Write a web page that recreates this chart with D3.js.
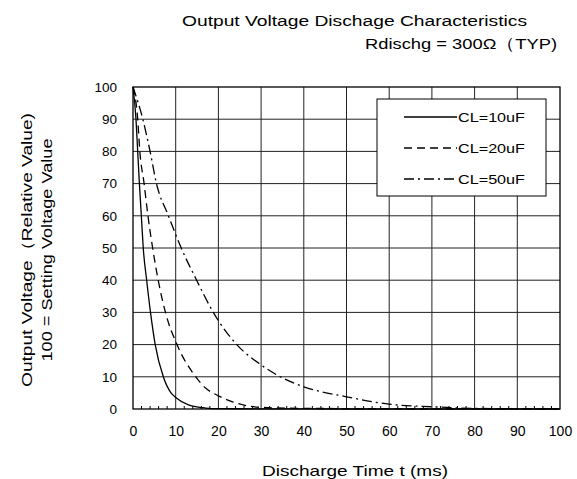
<!DOCTYPE html>
<html>
<head>
<meta charset="utf-8">
<script src="https://cdn.jsdelivr.net/npm/d3@7"></script>
<style>
  body { margin: 0; background: #fff; }
  svg text { font-family: "Liberation Sans", Arial, sans-serif; fill: #000; }
</style>
</head>
<body>
<svg id="chart" width="577" height="479"></svg>
<script>
// series: time (ms) -> relative output voltage
const seriesNames = ["CL=10uF", "CL=20uF", "CL=50uF"];

const t10 = [0, 0.7, 1.1, 1.5, 1.95, 2.4, 3.2, 4.1, 5.2, 7.1, 8.9, 10, 13, 17, 20, 30, 50, 100];
const v10 = [100, 90, 80, 70, 60, 50, 40, 30, 20, 10, 5, 3.6, 1.3, 0.3, 0.1, 0.05, 0, 0];

const t20 = [0, 1.1, 1.6, 2.6, 3.5, 4.6, 5.9, 7.6, 10.3, 14.7, 17, 20, 23, 26, 30, 40, 60, 100];
const v20 = [100, 90, 80, 70, 60, 50, 40, 30, 20, 10, 6.5, 4.1, 2.4, 1.2, 0.5, 0.2, 0.1, 0];

const t50 = [0, 2.3, 4.0, 5.5, 8.3, 11.3, 14.9, 18.8, 24.3, 30, 34.5, 40, 50, 60, 70, 80, 90, 100];
const v50 = [100, 90, 80, 70, 60, 50, 40, 30, 20, 13.7, 10, 6.9, 3.8, 1.5, 0.7, 0.2, 0.1, 0];

const xTicks = [0, 10, 20, 30, 40, 50, 60, 70, 80, 90, 100];
const yTicks = [0, 10, 20, 30, 40, 50, 60, 70, 80, 90, 100];

const titleLines = ["Output Voltage Dischage Characteristics", "Rdischg = 300\u03A9\uFF08TYP)"];
const yLabelLines = ["Output Voltage\uFF08Relative Value)", "100 = Setting Voltage Value"];
const xLabel = "Discharge Time t (ms)";

const dashes = [null, "8,5", "10,4,2,4"];

const margin = {top: 87, right: 17, bottom: 70, left: 133};
const width = 577 - margin.left - margin.right;
const height = 479 - margin.top - margin.bottom;

const svg = d3.select("#chart");
const g = svg.append("g").attr("transform", `translate(${margin.left},${margin.top})`);

const x = d3.scaleLinear().domain([0, 100]).range([0, width]);
const y = d3.scaleLinear().domain([0, 100]).range([height, 0]);

// wide gothic look: stretch the glyphs to the widths seen in the picture
function stretched(sel, len) {
  return sel.attr("textLength", len).attr("lengthAdjust", "spacingAndGlyphs");
}

// grid
g.append("g").selectAll("line").data(xTicks.slice(1, -1)).join("line")
  .attr("x1", d => x(d)).attr("x2", d => x(d)).attr("y1", 0).attr("y2", height)
  .attr("stroke", "#222").attr("stroke-width", 1);
g.append("g").selectAll("line").data(yTicks.slice(1, -1)).join("line")
  .attr("x1", 0).attr("x2", width).attr("y1", d => y(d)).attr("y2", d => y(d))
  .attr("stroke", "#222").attr("stroke-width", 1);

// minor ticks along the bottom, every 2 ms, pointing in
g.append("g").selectAll("line").data(d3.range(2, 100, 2).filter(v => v % 10)).join("line")
  .attr("x1", d => x(d)).attr("x2", d => x(d)).attr("y1", height).attr("y2", height - 3)
  .attr("stroke", "#000");

// axes (labels only)
const xAxis = g.append("g").attr("transform", `translate(0,${height})`)
  .call(d3.axisBottom(x).tickValues(xTicks).tickSize(0).tickPadding(17));
xAxis.select(".domain").remove();
xAxis.selectAll("text").style("font-size", "14px");

const yAxis = g.append("g")
  .call(d3.axisLeft(y).tickValues(yTicks).tickSize(0).tickPadding(16));
yAxis.select(".domain").remove();
yAxis.selectAll("text").style("font-size", "13.5px");

// frame
g.append("rect").attr("width", width).attr("height", height)
  .attr("fill", "none").attr("stroke", "#000").attr("stroke-width", 1.3);

// curves
const line = d3.line().x(d => x(d[0])).y(d => y(d[1])).curve(d3.curveMonotoneX);
const allSeries = [[t10, v10], [t20, v20], [t50, v50]].map(([ts, vs]) => ts.map((t, i) => [t, vs[i]]));
g.selectAll("path.curve").data(allSeries).join("path")
  .attr("class", "curve")
  .attr("d", line)
  .attr("fill", "none").attr("stroke", "#000").attr("stroke-width", 1.3)
  .attr("stroke-dasharray", (d, i) => dashes[i]);

// legend
const lg = svg.append("g").attr("transform", "translate(377,99)");
lg.append("rect").attr("width", 169).attr("height", 97)
  .attr("fill", "#fff").attr("stroke", "#000").attr("stroke-width", 1);
seriesNames.forEach((name, i) => {
  const yy = 18 + i * 31;
  lg.append("line").attr("x1", 27).attr("x2", 80).attr("y1", yy).attr("y2", yy)
    .attr("stroke", "#000").attr("stroke-width", 1.3).attr("stroke-dasharray", dashes[i]);
  stretched(lg.append("text").attr("x", 81).attr("y", yy + 5).style("font-size", "13px").text(name), 67);
});

// titles
stretched(svg.append("text").attr("x", 182).attr("y", 26).style("font-size", "15.5px").text(titleLines[0]), 345);
stretched(svg.append("text").attr("x", 365).attr("y", 49)
  .style("font-size", "15.5px").text(titleLines[1]), 192);

const yLens = [274, 223];
yLabelLines.forEach((s, i) => {
  stretched(svg.append("text")
    .attr("transform", `translate(${32 + i * 20},250) rotate(-90)`)
    .attr("text-anchor", "middle").style("font-size", "15px").text(s), yLens[i]);
});

stretched(svg.append("text").attr("x", 355).attr("y", 476)
  .attr("text-anchor", "middle").style("font-size", "15px").text(xLabel), 186);
</script>
</body>
</html>
